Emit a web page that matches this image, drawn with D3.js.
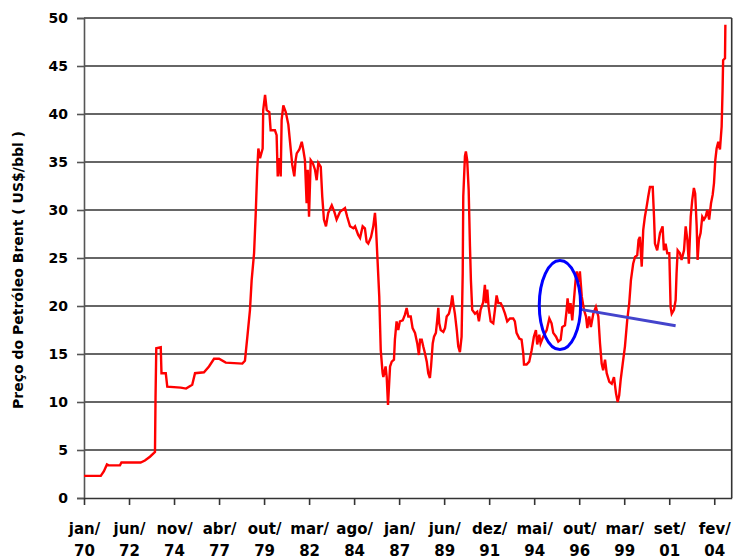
<!DOCTYPE html>
<html>
<head>
<meta charset="utf-8">
<script src="https://cdn.jsdelivr.net/npm/d3@7"></script>
<style>
  body { margin: 0; background: #fff; }
  svg { display: block; }
  text { font-family: "DejaVu Sans", sans-serif; font-weight: bold; fill: #000; }
</style>
</head>
<body>
<svg width="733" height="558"></svg>
<script>
(function (d3) {
  'use strict';

  // Brent price (years counted from jan/70)
  const yearsFromJan70 = [
    0.00, 0.90, 1.07, 1.23, 1.32, 1.93, 2.01, 3.04, 3.27, 3.54,
    3.76, 3.81, 3.84, 3.88, 4.12, 4.16, 4.39, 4.47, 5.19, 5.48,
    5.81, 5.96, 6.44, 6.71, 6.98, 7.25, 7.61, 8.50, 8.64, 8.77,
    8.91, 9.00, 9.13, 9.22, 9.30, 9.36, 9.45, 9.59, 9.62, 9.72,
    9.81, 9.95, 10.02, 10.25, 10.34, 10.40, 10.48, 10.56, 10.61, 10.70,
    10.83, 10.97, 11.10, 11.18, 11.29, 11.36, 11.42, 11.56, 11.69, 11.77,
    11.86, 11.95, 12.01, 12.08, 12.17, 12.28, 12.40, 12.49, 12.58, 12.71,
    12.79, 12.88, 12.99, 13.11, 13.30, 13.44, 13.56, 13.74, 14.01, 14.13,
    14.28, 14.46, 14.55, 14.72, 14.82, 14.96, 15.08, 15.17, 15.26, 15.41,
    15.53, 15.62, 15.67, 15.74, 15.85, 15.93, 16.03, 16.07, 16.19, 16.25,
    16.32, 16.43, 16.52, 16.64, 16.69, 16.78, 16.87, 16.96, 17.11, 17.23,
    17.32, 17.41, 17.54, 17.64, 17.77, 17.89, 17.98, 18.04, 18.13, 18.21,
    18.30, 18.40, 18.48, 18.57, 18.63, 18.72, 18.79, 18.89, 18.96, 19.02,
    19.07, 19.15, 19.29, 19.38, 19.47, 19.59, 19.70, 19.77, 19.82, 19.91,
    20.01, 20.09, 20.18, 20.27, 20.33, 20.36, 20.45, 20.50, 20.57, 20.65,
    20.72, 20.77, 20.84, 20.99, 21.11, 21.20, 21.29, 21.43, 21.52, 21.58,
    21.65, 21.72, 21.83, 21.97, 22.06, 22.15, 22.24, 22.37, 22.47, 22.60,
    22.72, 22.87, 23.04, 23.13, 23.22, 23.37, 23.49, 23.58, 23.62, 23.76,
    23.90, 24.03, 24.15, 24.26, 24.33, 24.44, 24.51, 24.65, 24.84, 24.98,
    25.10, 25.19, 25.34, 25.46, 25.59, 25.67, 25.82, 25.91, 25.96, 26.05,
    26.12, 26.21, 26.30, 26.39, 26.45, 26.53, 26.62, 26.72, 26.84, 26.95,
    27.02, 27.12, 27.21, 27.34, 27.48, 27.61, 27.70, 27.79, 27.87, 27.97,
    28.06, 28.20, 28.33, 28.45, 28.56, 28.65, 28.73, 28.81, 28.92, 29.04,
    29.16, 29.27, 29.36, 29.48, 29.58, 29.70, 29.77, 29.84, 29.94, 30.02,
    30.11, 30.20, 30.29, 30.38, 30.53, 30.60, 30.65, 30.77, 30.92, 31.06,
    31.13, 31.22, 31.31, 31.42, 31.49, 31.55, 31.67, 31.76, 31.81, 31.87,
    31.99, 32.08, 32.21, 32.30, 32.39, 32.47, 32.57, 32.65, 32.74, 32.81,
    32.89, 32.94, 33.01, 33.10, 33.19, 33.28, 33.37, 33.46, 33.56, 33.66,
    33.75, 33.82, 33.89, 33.96, 34.05, 34.14, 34.23, 34.28, 34.31, 34.41,
    34.43
  ];
  const brentPrice = [
    2.3, 2.3, 2.8, 3.5, 3.4, 3.4, 3.7, 3.7, 3.9, 4.3,
    4.7, 4.8, 10.5, 15.6, 15.7, 13.0, 13.0, 11.6, 11.5, 11.4,
    11.8, 13.0, 13.1, 13.7, 14.5, 14.5, 14.1, 14.0, 14.3, 16.8,
    19.6, 22.7, 25.5, 29.7, 34.2, 36.4, 35.4, 36.4, 40.4, 42.0,
    40.4, 40.2, 38.3, 38.3, 37.8, 33.5, 35.4, 33.5, 39.4, 40.9,
    40.2, 38.9, 36.3, 34.7, 33.5, 35.2, 35.9, 36.3, 37.1, 36.3,
    35.2, 30.7, 34.2, 29.3, 35.2, 34.9, 34.2, 33.1, 34.9, 34.5,
    31.4, 29.0, 28.3, 29.7, 30.5, 29.8, 29.0, 29.8, 30.2, 29.3,
    28.3, 28.1, 28.3, 27.4, 27.1, 28.3, 28.1, 26.7, 26.5, 27.2,
    28.3, 29.7, 28.4, 25.5, 21.0, 15.4, 13.0, 12.6, 13.7, 12.6,
    9.7, 13.7, 14.2, 14.4, 16.5, 18.4, 17.5, 18.4, 18.5, 19.1,
    19.8, 18.9, 18.9, 17.7, 17.2, 16.1, 14.9, 16.5, 16.5, 15.8,
    15.1, 14.2, 13.0, 12.5, 13.7, 16.1, 16.8, 17.2, 18.5, 19.8,
    18.2, 17.5, 17.3, 17.7, 18.9, 19.2, 20.1, 21.1, 20.3, 19.2,
    17.5, 15.8, 15.2, 16.8, 23.4, 31.4, 35.6, 36.1, 35.2, 32.1,
    26.2, 22.7, 19.6, 19.2, 19.4, 18.4, 19.6, 20.4, 22.2, 20.3,
    21.7, 19.9, 18.4, 18.2, 19.6, 21.1, 20.3, 20.3, 19.9, 19.2,
    18.4, 18.7, 18.7, 18.4, 17.2, 16.6, 16.5, 15.1, 13.9, 13.9,
    14.2, 15.4, 16.8, 17.5, 16.0, 17.0, 16.1, 16.8, 17.5, 18.7,
    18.2, 17.2, 16.8, 16.3, 16.5, 17.8, 18.0, 19.6, 20.8, 19.2,
    20.3, 18.5, 20.6, 22.7, 23.6, 22.5, 23.6, 21.0, 19.6, 18.9,
    17.7, 18.9, 17.8, 19.2, 19.9, 18.9, 16.1, 14.0, 13.3, 14.4,
    13.0, 12.1, 11.9, 12.6, 10.9, 10.0, 10.7, 12.3, 14.0, 15.8,
    18.5, 20.3, 22.7, 24.4, 25.1, 25.3, 26.9, 27.2, 24.1, 27.9,
    29.3, 30.3, 31.4, 32.4, 32.4, 29.3, 26.5, 25.8, 27.6, 28.3,
    25.8, 26.5, 25.5, 25.5, 19.9, 19.2, 19.6, 20.6, 23.4, 25.8,
    25.5, 24.8, 25.8, 28.3, 26.9, 24.4, 29.3, 31.0, 32.3, 31.7,
    28.3, 24.8, 26.9, 27.6, 29.3, 29.0, 29.3, 30.0, 29.0, 30.7,
    31.6, 32.8, 35.2, 36.4, 37.1, 36.3, 38.7, 42.5, 45.6, 45.8,
    49.3
  ];

  // category ticks every 29 months
  const tickMonths = ['jan/', 'jun/', 'nov/', 'abr/', 'out/', 'mar/', 'ago/', 'jan/',
    'jun/', 'dez/', 'mai/', 'out/', 'mar/', 'set/', 'fev/'];
  const tickYears = ['70', '72', '74', '77', '79', '82', '84', '87',
    '89', '91', '94', '96', '99', '01', '04'];
  const yTicks = [0, 5, 10, 15, 20, 25, 30, 35, 40, 45, 50];

  // blue highlight: ellipse (centre, half widths) and pointer line
  const ellipseCentre = [25.55, 20.1];
  const ellipseRadii = [1.11, 4.64];
  const pointerLine = [[26.66, 19.65], [31.76, 17.95]];

  const svg = d3.select('svg');
  const width = +svg.attr('width');
  const height = +svg.attr('height');

  const data = yearsFromJan70.map((t, i) => ({ t, price: brentPrice[i] }));

  const margin = { top: 18, right: 1.3, bottom: 60, left: 84 };
  const innerWidth = width - margin.left - margin.right;
  const innerHeight = height - margin.top - margin.bottom;

  const xScale = d3.scaleLinear()
    .domain([0, 34.77])
    .range([0, innerWidth]);

  const yScale = d3.scaleLinear()
    .domain([0, 50])
    .range([innerHeight, 0]);

  const g = svg.append('g')
    .attr('transform', `translate(${margin.left},${margin.top})`);

  // horizontal grid
  g.append('g').selectAll('line')
    .data(yTicks.filter(d => d > 0))
    .join('line')
      .attr('x1', 0)
      .attr('x2', innerWidth)
      .attr('y1', d => yScale(d))
      .attr('y2', d => yScale(d))
      .attr('stroke', '#333')
      .attr('stroke-width', 1.6);

  // right border
  g.append('line')
    .attr('x1', innerWidth).attr('x2', innerWidth)
    .attr('y1', 0).attr('y2', innerHeight)
    .attr('stroke', '#333')
    .attr('stroke-width', 1.6);

  const yAxis = d3.axisLeft(yScale)
    .tickValues(yTicks)
    .tickSize(7)
    .tickPadding(9);

  const yAxisG = g.append('g').call(yAxis);
  yAxisG.selectAll('line, path').attr('stroke', '#555').attr('stroke-width', 1.6);
  yAxisG.selectAll('text').style('font-size', '14px').attr('font-family', null);

  const xTickValues = tickYears.map((_, i) => i * 29 / 12);
  const xAxis = d3.axisBottom(xScale)
    .tickValues(xTickValues)
    .tickSize(7)
    .tickSizeOuter(0);

  const xAxisG = g.append('g')
    .attr('transform', `translate(0,${innerHeight})`)
    .call(xAxis);
  xAxisG.selectAll('line, path').attr('stroke', '#333').attr('stroke-width', 1.6);
  xAxisG.selectAll('.tick text').each(function (d, i) {
    const t = d3.select(this).text(null).attr('dy', null).style('font-size', '15px');
    t.append('tspan').attr('x', 0).attr('y', 36).text(tickMonths[i]);
    t.append('tspan').attr('x', 0).attr('y', 58).text(tickYears[i]);
  });

  yAxisG.append('text')
    .attr('transform', 'rotate(-90)')
    .attr('x', -(270 - margin.top))
    .attr('y', -61)
    .style('text-anchor', 'middle')
    .style('font-size', '14px')
    .attr('fill', '#000')
    .text('Preço do Petróleo Brent  ( US$/bbl )');

  const lineGenerator = d3.line()
    .x(d => xScale(d.t))
    .y(d => yScale(d.price));

  g.append('path')
    .attr('d', lineGenerator(data))
    .attr('fill', 'none')
    .attr('stroke', '#ff0000')
    .attr('stroke-width', 2.4);

  g.append('line')
    .attr('x1', xScale(pointerLine[0][0]))
    .attr('y1', yScale(pointerLine[0][1]))
    .attr('x2', xScale(pointerLine[1][0]))
    .attr('y2', yScale(pointerLine[1][1]))
    .attr('stroke', '#4444cc')
    .attr('stroke-width', 3);

  g.append('ellipse')
    .attr('cx', xScale(ellipseCentre[0]))
    .attr('cy', yScale(ellipseCentre[1]))
    .attr('rx', xScale(ellipseRadii[0]) - xScale(0))
    .attr('ry', yScale(0) - yScale(ellipseRadii[1]))
    .attr('fill', 'none')
    .attr('stroke', '#0000ff')
    .attr('stroke-width', 3);

}(d3));
</script>
</body>
</html>
